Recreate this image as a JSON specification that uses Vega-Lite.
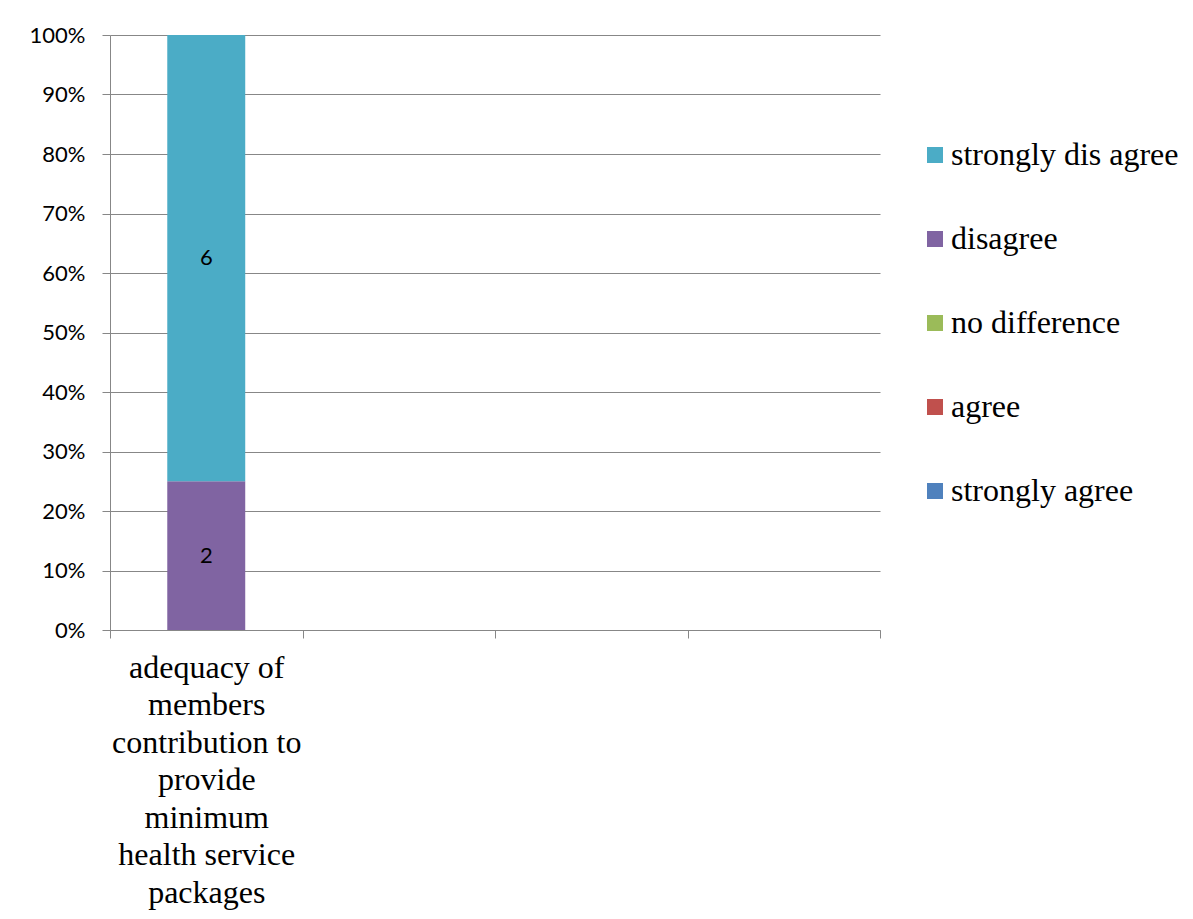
{
  "$schema": "https://vega.github.io/schema/vega-lite/v6.json",
  "width": 770,
  "height": 595,
  "autosize": {"type": "none"},
  "padding": {"left": 110, "top": 35, "right": 313, "bottom": 289},
  "background": "white",
  "config": {
    "view": {"stroke": null},
    "font": "Lato"
  },
  "data": {
    "values": [
      {"question": "adequacy of members contribution to provide minimum health service packages", "response": "strongly agree", "level": 1, "count": 0},
      {"question": "adequacy of members contribution to provide minimum health service packages", "response": "agree", "level": 2, "count": 0},
      {"question": "adequacy of members contribution to provide minimum health service packages", "response": "no difference", "level": 3, "count": 0},
      {"question": "adequacy of members contribution to provide minimum health service packages", "response": "disagree", "level": 4, "count": 2},
      {"question": "adequacy of members contribution to provide minimum health service packages", "response": "strongly dis agree", "level": 5, "count": 6}
    ]
  },
  "transform": [
    {"stack": "count", "groupby": ["question"], "sort": [{"field": "level", "order": "ascending"}], "offset": "normalize", "as": ["y0", "y1"]},
    {"calculate": "(datum.y0 + datum.y1) / 2", "as": "ymid"}
  ],
  "encoding": {
    "x": {
      "field": "question",
      "type": "nominal",
      "scale": {
        "domain": ["adequacy of members contribution to provide minimum health service packages", " ", "  ", "   "],
        "paddingInner": 0,
        "paddingOuter": 0
      },
      "axis": {
        "title": null,
        "labelAngle": 0,
        "labelExpr": "datum.value == 'adequacy of members contribution to provide minimum health service packages' ? ['adequacy of', 'members', 'contribution to', 'provide', 'minimum', 'health service', 'packages'] : ''",
        "labelFont": "Liberation Serif, Times New Roman, serif",
        "labelFontSize": 32,
        "labelLineHeight": 37.5,
        "labelColor": "black",
        "labelBaseline": "top",
        "labelPadding": 14,
        "labelLimit": 0,
        "tickBand": "extent",
        "ticks": true,
        "tickSize": 8,
        "tickColor": "#878787",
        "domainColor": "#878787",
        "grid": false
      }
    }
  },
  "layer": [
    {
      "mark": {"type": "bar", "width": {"band": 0.405}},
      "encoding": {
        "y": {
          "field": "y0",
          "type": "quantitative",
          "scale": {"domain": [0, 1]},
          "axis": {
            "title": null,
            "format": ".0%",
            "values": [0, 0.1, 0.2, 0.3, 0.4, 0.5, 0.6, 0.7, 0.8, 0.9, 1],
            "grid": true,
            "gridColor": "#878787",
            "tickSize": 8,
            "tickColor": "#878787",
            "domainColor": "#878787",
            "labelPadding": 17,
            "labelFont": "Lato",
            "labelFontSize": 22,
            "labelColor": "black"
          }
        },
        "y2": {"field": "y1"},
        "color": {
          "field": "response",
          "type": "nominal",
          "scale": {
            "domain": ["strongly dis agree", "disagree", "no difference", "agree", "strongly agree"],
            "range": ["#4BACC6", "#8064A2", "#9BBB59", "#C0504D", "#4F81BD"]
          },
          "legend": {
            "orient": "none",
            "legendX": 809,
            "legendY": 104,
            "title": null,
            "symbolType": "square",
            "symbolSize": 256,
            "symbolStrokeWidth": 0,
            "labelFont": "Liberation Serif, Times New Roman, serif",
            "labelFontSize": 32,
            "labelColor": "black",
            "labelOffset": 0,
            "labelLimit": 0,
            "rowPadding": 52
          }
        }
      }
    },
    {
      "transform": [{"filter": "datum.count > 0"}],
      "mark": {"type": "text", "font": "Lato", "fontSize": 22, "color": "black"},
      "encoding": {
        "y": {"field": "ymid", "type": "quantitative"},
        "text": {"field": "count", "type": "quantitative"}
      }
    }
  ]
}
